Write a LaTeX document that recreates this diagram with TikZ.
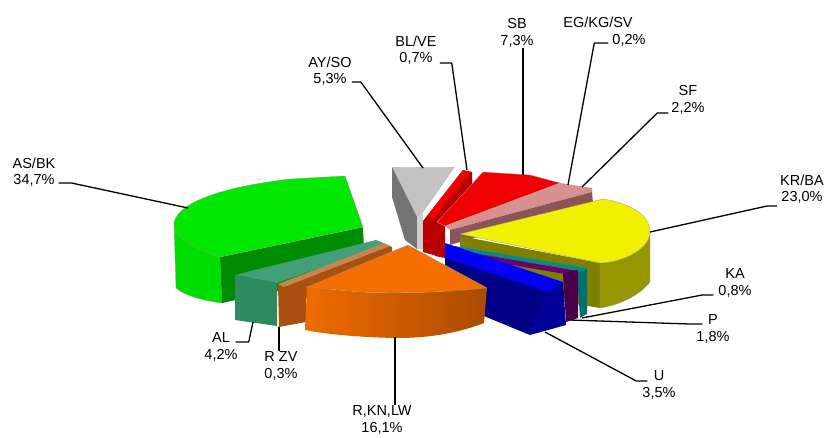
\documentclass[tikz,border=0pt]{standalone}
\usepackage{fontspec}
\setmainfont{Liberation Sans}
\definecolor{grtop}{RGB}{0,232,0}
\definecolor{grside}{RGB}{0,222,0}
\definecolor{grcut}{RGB}{0,140,0}
\definecolor{gytop}{RGB}{195,195,195}
\definecolor{gycut}{RGB}{115,115,115}
\definecolor{rdtop}{RGB}{240,0,0}
\definecolor{rdcut}{RGB}{185,0,0}
\definecolor{pktop}{RGB}{215,145,145}
\definecolor{pkcut}{RGB}{140,85,85}
\definecolor{yltop}{RGB}{240,240,0}
\definecolor{ylcut}{RGB}{128,128,0}
\definecolor{ylside}{RGB}{150,150,0}
\definecolor{kacol}{RGB}{0,140,140}
\definecolor{pcol}{RGB}{110,0,110}
\definecolor{pcut}{RGB}{75,0,75}
\definecolor{butop}{RGB}{0,0,245}
\definecolor{bucut}{RGB}{0,0,135}
\definecolor{altop}{RGB}{65,160,120}
\definecolor{alcut}{RGB}{45,140,95}
\definecolor{zvcol}{RGB}{170,80,15}
\definecolor{ortop}{RGB}{245,110,0}
\definecolor{orlight}{RGB}{240,108,0}
\definecolor{ordark}{RGB}{170,75,0}
\begin{document}
\begin{tikzpicture}[x=1pt,y=-1pt,line join=round]
  \tikzstyle{lbl} = [align=center, inner sep=1pt, font=\fontsize{14.5}{16.5}\selectfont]
  \tikzstyle{lead} = [line width=1.3pt, black]
  \tikzstyle{face} = [draw=black!40, line width=0.3pt]
  \useasboundingbox (0,0) rectangle (831,437);

  % back slices
  \fill[gytop] (392,167) -- (455,167) -- (422,214) -- (417,217) -- cycle;
  \fill[gycut] (392,167) -- (417,217) -- (417,249) -- (405,240) -- (392,197) -- cycle;
  \fill[gytop!80!white] (417,217) -- (423,213) -- (423,249) -- (417,249) -- cycle;
  \fill[rdcut] (423,221) -- (463,170) -- (472,172) -- (472,185) -- (437,222) -- (437,256) -- (423,252) -- cycle;
  \fill[rdtop] (427,216) -- (463,170) -- (470,172) -- (434,218) -- cycle;
  \fill[rdcut] (435,220) -- (445,226) -- (445,258) -- (435,256) -- cycle;
  \fill[rdtop,face] (437,222) -- (483,172) -- (530,175) -- (560,183) -- (445,226) -- cycle;
  \fill[pktop] (445,226) -- (560,183) -- (592,188) -- (592,192) -- (450,230) -- cycle;
  \fill[pkcut] (450,230) -- (592,192) -- (593,203) -- (450,245) -- cycle;

  % KR/BA
  \fill[ylcut] (460,236) -- (600,263) -- (600,308) -- (460,285) -- cycle;
  \fill[ylside,face] (600,263) .. controls (625,262) and (650,248) .. (650,232)
    -- (650,282) .. controls (640,295) and (620,305) .. (600,308) -- cycle;
  \fill[yltop,face] (460,234) -- (603,199) .. controls (630,203) and (650,215) .. (650,232)
    .. controls (650,248) and (625,262) .. (600,263) -- cycle;

  % KA, P, U
  \fill[kacol] (455,246) -- (587,268) -- (587,272) -- (455,250) -- cycle;
  \fill[kacol!80!black] (577,272) -- (587,270) -- (587,314) -- (580,318) -- cycle;
  \fill[pcol] (450,249) -- (578,271) -- (565,274) -- (447,254) -- cycle;
  \fill[pcut] (563,273) -- (578,270) -- (578,318) -- (566,322) -- cycle;
  \fill[bucut] (445,255) -- (548,292) -- (530,335) -- (445,300) -- cycle;
  \fill[bucut!85!blue] (548,290) -- (563,282) -- (566,325) -- (530,335) -- cycle;
  \fill[butop] (445,243) -- (563,282) -- (548,292) -- (445,258) -- cycle;

  % AS/BK
  \fill[grside,face] (174,222) -- (176,288) .. controls (185,296) and (205,301) .. (222,303)
    -- (220,257) .. controls (200,250) and (176,238) .. (174,222) -- cycle;
  \fill[grcut] (220,257) -- (363,227) -- (365,272) -- (222,303) -- cycle;
  \fill[grtop,face] (220,257) .. controls (190,247) and (172,235) .. (174,222)
    .. controls (180,200) and (230,186) .. (290,179) -- (345,176) -- (363,227) -- cycle;

  % AL, R ZV
  \fill[altop] (235,275) -- (376,240) -- (386,244) -- (277,283) -- cycle;
  \fill[alcut] (235,275) -- (277,283) -- (277,326) -- (235,320) -- cycle;
  \fill[zvcol] (278,285) -- (385,244) -- (392,247) -- (392,262) -- (306,298) -- (306,322) -- (279,327) -- cycle;
  \fill[zvcol!70!white] (278,284) -- (384,243) -- (390,246) -- (284,287) -- cycle;

  % R,KN,LW
  \shade[left color=orlight, right color=ordark] (307,287) -- (360,292) .. controls (400,294) and (450,292) .. (487,288)
    -- (484,323) .. controls (450,336) and (420,338) .. (395,338)
    .. controls (350,337) and (320,333) .. (305,330) -- cycle;
  \fill[ortop,face] (408,245) -- (487,288) .. controls (450,292) and (400,294) .. (360,292) -- (307,287) -- cycle;

  % end points on slices
  \coordinate (pAS) at (188,208);
  \coordinate (pAY) at (423,168);
  \coordinate (pBL) at (467,170);
  \coordinate (pSB) at (523,175);
  \coordinate (pEG) at (568,185);
  \coordinate (pSF) at (582,187);
  \coordinate (pKR) at (650,232);
  \coordinate (pKA) at (582,318);
  \coordinate (pP) at (570,320);
  \coordinate (pU) at (545,332);
  \coordinate (pR) at (395,337);
  \coordinate (pZV) at (279,327);
  \coordinate (pAL) at (253,322);

  % labels
  \node[lbl] (asbk) at (34,172) {AS/BK\\34,7\%};
  \node[lbl] (ayso) at (330,71) {AY/SO\\5,3\%};
  \node[lbl] (blve) at (416,50) {BL/VE\\0,7\%};
  \node[lbl] (sb) at (517,33) {SB\\7,3\%};
  \node[lbl] (egkg) at (598,22) {EG/KG/SV};
  \node[lbl] (egkgv) at (629,40) {0,2\%};
  \node[lbl] (sf) at (688,100) {SF\\2,2\%};
  \node[lbl] (krba) at (802,189) {KR/BA\\23,0\%};
  \node[lbl] (ka) at (735,283) {KA\\0,8\%};
  \node[lbl] (p) at (713,329) {P\\1,8\%};
  \node[lbl] (u) at (659,385) {U\\3,5\%};
  \node[lbl] (rkn) at (382,420) {R,KN,LW\\16,1\%};
  \node[lbl] (rzv) at (281,366) {R ZV\\0,3\%};
  \node[lbl] (al) at (221,347) {AL\\4,2\%};

  % leader lines
  \draw[lead] ([xshift=2pt,yshift=-11pt]asbk.east) -- ++(13,0) -- (pAS);
  \draw[lead] ([xshift=-1pt,yshift=-11pt]ayso.east) -- ++(9,0) -- (pAY);
  \draw[lead] ([xshift=2pt,yshift=-13pt]blve.east) -- ++(12,0) -- (pBL);
  \draw[lead] ([xshift=6pt]sb.south) -- (pSB);
  \draw[lead] ([xshift=-3pt,yshift=-3pt]egkgv.west) -- ++(-14,0) -- (pEG);
  \draw[lead] ([xshift=-2pt,yshift=-13pt]sf.west) -- ++(-11,0) -- (pSF);
  \draw[lead] ([xshift=-2pt,yshift=-17pt]krba.west) -- ++(-10,0) -- (pKR);
  \draw[lead] ([xshift=-4pt,yshift=-12pt]ka.west) -- ++(-11,0) -- (pKA);
  \draw[lead] ([xshift=7pt,yshift=5pt]p.west) -- ++(-13,0) -- (pP);
  \draw[lead] ([xshift=6pt,yshift=4pt]u.west) -- ++(-11,0) -- (pU);
  \draw[lead] ([xshift=13pt]rkn.north) -- (pR);
  \draw[lead] ([xshift=-2pt]rzv.north) -- (pZV);
  \draw[lead] ([xshift=-3pt,yshift=5pt]al.east) -- ++(13,0) -- (pAL);
\end{tikzpicture}
\end{document}
